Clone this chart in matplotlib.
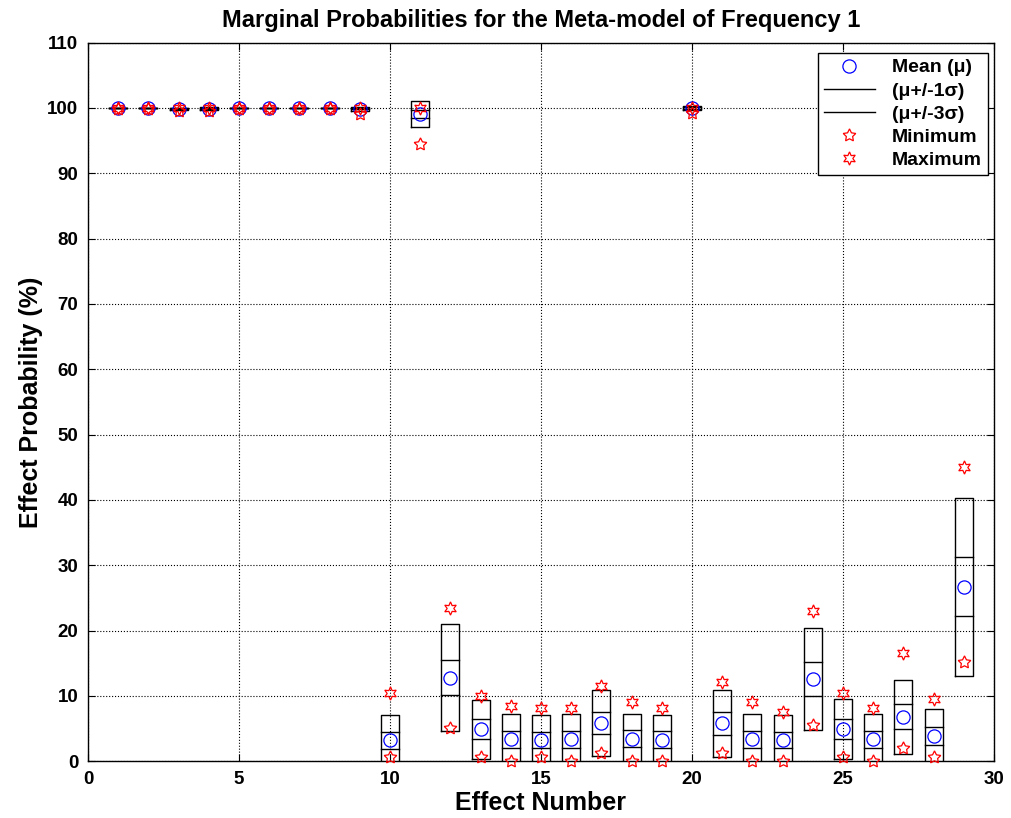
import matplotlib
matplotlib.use('Agg')
import matplotlib.pyplot as plt

# values
effects = list(range(1, 30))
mean_vals = [100, 100, 99.9, 99.9, 100, 100, 100, 100, 99.9, 3.2,
             99.1, 12.8, 4.9, 3.35, 3.25, 3.35, 5.85, 3.45, 3.3, 100,
             5.8, 3.4, 3.25, 12.6, 5.0, 3.35, 6.8, 3.85, 26.7]
std_vals = [0.0, 0.0, 0.05, 0.08, 0.0, 0.0, 0.0, 0.0, 0.1, 1.3,
            0.65, 2.72, 1.52, 1.3, 1.28, 1.3, 1.68, 1.27, 1.27, 0.12,
            1.72, 1.29, 1.28, 2.6, 1.53, 1.3, 1.9, 1.38, 4.53]
min_vals = [99.9, 99.9, 99.6, 99.5, 99.9, 99.9, 99.9, 99.9, 99.0, 0.7,
            94.5, 5.1, 0.7, 0.0, 0.6, 0.0, 1.2, 0.0, 0.0, 99.2,
            1.2, 0.0, 0.0, 5.5, 0.6, 0.0, 2.1, 0.7, 15.2]
max_vals = [100, 100, 100, 100, 100, 100, 100, 100, 100, 10.5,
            100, 23.4, 10.0, 8.4, 8.1, 8.1, 11.6, 9.05, 8.1, 100,
            12.2, 9.05, 7.6, 23.0, 10.5, 8.1, 16.6, 9.5, 45.0]

plt.rcParams['font.family'] = ['Liberation Sans', 'DejaVu Sans']
plt.rcParams['font.weight'] = 'bold'

fig = plt.figure(figsize=(10.11, 8.18), dpi=100)
ax = fig.add_axes([0.087, 0.0693, 0.8962, 0.8786])

hw = 0.3
for i in range(len(effects)):
    x = effects[i]
    m = mean_vals[i]
    s = std_vals[i]
    lo3, hi3 = m - 3 * s, m + 3 * s
    l3, = ax.plot([x - hw, x + hw, x + hw, x - hw, x - hw], [lo3, lo3, hi3, hi3, lo3],
                  color='black', lw=1.0)
    l1, = ax.plot([x - hw, x + hw], [m + s, m + s], color='black', lw=1.0)
    ax.plot([x - hw, x + hw], [m - s, m - s], color='black', lw=1.0)

hm, = ax.plot(effects, mean_vals, 'o', ls='none', mfc='none', mec='blue', ms=9.5, mew=0.9,
              clip_on=False, zorder=3)
hmin, = ax.plot(effects, min_vals, marker=(5, 1, 0), ls='none', mfc='none', mec='red',
                ms=9.5, mew=0.9, clip_on=False, zorder=4)
hmax, = ax.plot(effects, max_vals, marker=(6, 1, 0), ls='none', mfc='none', mec='red',
                ms=9.5, mew=0.9, clip_on=False, zorder=4)

ax.set_xlim(0, 30)
ax.set_ylim(0, 110)
ax.set_xticks(range(0, 31, 5))
ax.set_yticks(range(0, 111, 10))
ax.tick_params(direction='in', top=True, right=True, length=5, labelsize=13.5, pad=7)
ax.grid(True, linestyle=':', color='black', linewidth=0.8)
for sp in ax.spines.values():
    sp.set_linewidth(1.0)

ax.set_title('Marginal Probabilities for the Meta-model of Frequency 1',
             fontsize=17, fontweight='bold', pad=11)
ax.set_xlabel('Effect Number', fontsize=18, fontweight='bold', labelpad=2)
ax.set_ylabel('Effect Probability (%)', fontsize=18, fontweight='bold', labelpad=3)

leg = ax.legend([hm, l1, l3, hmin, hmax],
                ['Mean (\u03bc)', '(\u03bc+/-1\u03c3)', '(\u03bc+/-3\u03c3)', 'Minimum', 'Maximum'],
                loc='upper right', bbox_to_anchor=(0.9934, 0.9855), borderaxespad=0,
                fancybox=False, framealpha=1, edgecolor='black', fontsize=14,
                handlelength=2.6, labelspacing=0.28, borderpad=0.3, handletextpad=0.9)
leg.get_frame().set_linewidth(1.0)

fig.savefig('out.png', dpi=100)
